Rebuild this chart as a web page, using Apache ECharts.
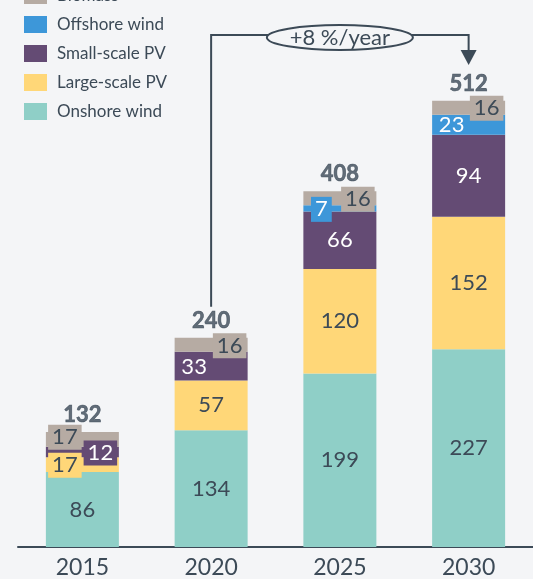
<!DOCTYPE html>
<html>
<head>
<meta charset="utf-8">
<script src="https://cdn.jsdelivr.net/npm/echarts@6/dist/echarts.min.js"></script>
<style>
  html, body { margin: 0; padding: 0; background: #f4f5f7; }
  #chart { width: 533px; height: 579px; }
</style>
</head>
<body>
<div id="chart"></div>
<script>
const years = ['2015', '2020', '2025', '2030']
const onshoreWind = [86, 134, 199, 227]
const largePV = [17, 57, 120, 152]
const smallPV = [12, 33, 66, 94]
const offshoreWind = [0, 0, 7, 23]
const biomass = [17, 16, 16, 16]
const totals = [132, 240, 408, 512]
const growthText = '+8 %/year'

const dark = '#3c4a57'
const font = 'Lato, "Open Sans", sans-serif'

// label nudges for the thin segments (series name -> bar index)
const tweaks = {
  'Large-scale PV': { 0: { dx: -17.5, dy: 0.5, box: true } },
  'Small-scale PV': { 0: { dx: 18, dy: 1, box: true }, 1: { dx: -17, dy: 1 } },
  'Offshore wind': { 2: { dx: -18.5, dy: 1, box: true }, 3: { dx: -17, dy: 0 } },
  'Biomass': {
    0: { dx: -17.5, dy: -2, box: true },
    1: { dx: 18.5, dy: 1, box: true },
    2: { dx: 18, dy: 1, box: true },
    3: { dx: 18, dy: 0.5, box: true }
  }
}

function makeSeries(name, values, color, textColor) {
  const t = tweaks[name] || {}
  return {
    name: name,
    type: 'bar',
    stack: 'total',
    barWidth: 73,
    itemStyle: { color: color },
    label: {
      show: true,
      position: 'inside',
      color: textColor,
      fontFamily: font,
      fontSize: 22,
      lineHeight: 22,
      formatter: p => (p.value ? p.value : '')
    },
    data: values.map((v, i) => {
      const tw = t[i]
      if (!tw) return v
      const lab = { offset: [tw.dx, tw.dy] }
      if (tw.box) {
        lab.backgroundColor = color
        lab.padding = [2, 4, 1, 4]
      }
      return { value: v, label: lab }
    })
  }
}

const chart = echarts.init(document.getElementById('chart'))
chart.setOption({
  backgroundColor: '#f4f5f7',
  animation: false,
  grid: { left: 18, right: -9, top: 24, bottom: 25 },
  legend: {
    orient: 'vertical',
    left: 24,
    top: -13,
    padding: 0,
    itemWidth: 23,
    itemHeight: 17,
    itemGap: 12,
    icon: 'rect',
    textStyle: { color: dark, fontFamily: font, fontSize: 17, lineHeight: 17, padding: [0, 0, 0, 5] },
    data: ['Biomass', 'Offshore wind', 'Small-scale PV', 'Large-scale PV', 'Onshore wind']
  },
  xAxis: {
    type: 'category',
    data: years,
    axisLine: { lineStyle: { color: dark, width: 2 } },
    axisTick: { show: false },
    axisLabel: { color: dark, fontFamily: font, fontSize: 23, margin: 9 }
  },
  yAxis: {
    type: 'value',
    min: 0,
    max: 600,
    show: false,
    splitLine: { show: false }
  },
  series: [
    makeSeries('Onshore wind', onshoreWind, '#8fcfc7', dark),
    makeSeries('Large-scale PV', largePV, '#ffd778', dark),
    makeSeries('Small-scale PV', smallPV, '#644b74', '#ffffff'),
    makeSeries('Offshore wind', offshoreWind, '#3d97d9', '#ffffff'),
    makeSeries('Biomass', biomass, '#b6aba3', dark),
    {
      name: 'Total',
      type: 'scatter',
      symbolSize: 0,
      silent: true,
      label: {
        show: true,
        position: 'top',
        distance: 6,
        color: dark,
        fontFamily: font,
        fontSize: 22,
        fontWeight: 'bold',
        // stroke so the totals read heavy even if no bold face is picked
        textBorderColor: dark,
        textBorderWidth: 0.6,
        formatter: '{c}'
      },
      data: totals
    }
  ]
})

// growth arrow from the 2020 total to the 2030 total
const from = chart.convertToPixel({ gridIndex: 0 }, [years[1], totals[1]])
const to = chart.convertToPixel({ gridIndex: 0 }, [years[3], totals[3]])
const lineY = 35
const midX = (from[0] + to[0]) / 2
chart.setOption({
  graphic: [
    {
      type: 'polyline',
      shape: { points: [[from[0], from[1] - 31], [from[0], lineY], [to[0], lineY], [to[0], lineY + 16]] },
      style: { stroke: dark, lineWidth: 2, fill: null }
    },
    {
      type: 'polygon',
      shape: { points: [[to[0] - 8, lineY + 15], [to[0] + 8, lineY + 15], [to[0], lineY + 30]] },
      style: { fill: dark }
    },
    {
      type: 'ellipse',
      shape: { cx: midX, cy: lineY + 2.5, rx: 73, ry: 12.5 },
      style: { fill: '#f4f5f7', stroke: dark, lineWidth: 2 }
    },
    {
      type: 'text',
      x: midX,
      y: lineY + 3,
      style: {
        text: growthText,
        fill: dark,
        font: '22px ' + font,
        align: 'center',
        verticalAlign: 'middle'
      }
    }
  ]
})
</script>
</body>
</html>
